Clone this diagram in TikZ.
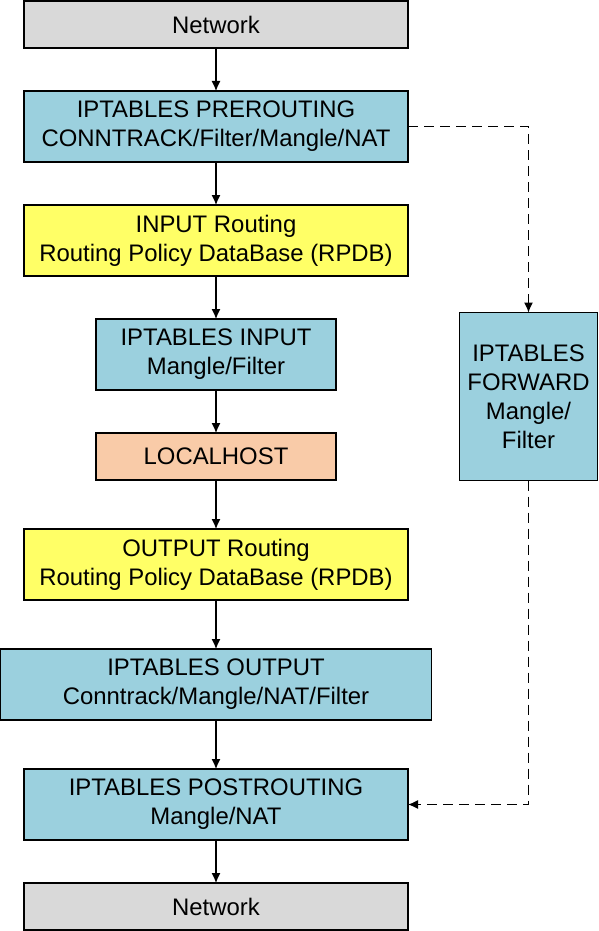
\documentclass[tikz,border=0pt]{standalone}
\usepackage{fontspec}
\setmainfont{Liberation Sans}
\usepackage{xcolor}
\usetikzlibrary{shapes,arrows.meta,positioning,calc}

\definecolor{netgray}{HTML}{D9D9D9}
\definecolor{chainblue}{HTML}{9BD0DE}
\definecolor{routeyellow}{HTML}{FFFF66}
\definecolor{hostorange}{HTML}{F9CBA8}

\begin{document}
\begin{tikzpicture}[
    x=1pt, y=-1pt,
    node distance=43pt,
    box/.style={rectangle, draw, line width=1.2pt, inner sep=0pt, outer sep=0pt, minimum width=384pt, minimum height=71pt, align=center, font=\fontsize{23.9}{29}\selectfont},
    net/.style={box, fill=netgray, minimum height=47pt},
    chain/.style={box, fill=chainblue},
    route/.style={box, fill=routeyellow},
    host/.style={box, fill=hostorange, minimum width=240pt, minimum height=47pt},
    arrow/.style={-{Latex[length=10pt,width=9pt]}, line width=1.2pt},
    dasharrow/.style={arrow, dash pattern=on 10pt off 6pt}
]
\useasboundingbox (0,0) rectangle (598,931);

% main path through the host
\node[net] (netin) at (216,24.5) {Network};
\node[chain, below=of netin] (pre) {IPTABLES PREROUTING\\CONNTRACK/Filter/Mangle/NAT};
\node[route, below=of pre] (inroute) {INPUT Routing\\Routing Policy DataBase (RPDB)};
\node[chain, below=of inroute, minimum width=240pt] (iptin) {IPTABLES INPUT\\Mangle/Filter};
\node[host, below=of iptin] (local) {LOCALHOST};
\node[route, below=49pt of local] (outroute) {OUTPUT Routing\\Routing Policy DataBase (RPDB)};
\node[chain, below=49pt of outroute, minimum width=431pt] (iptout) {IPTABLES OUTPUT\\Conntrack/Mangle/NAT/Filter};
\node[chain, below=49pt of iptout] (post) {IPTABLES POSTROUTING\\Mangle/NAT};
\node[net, below=of post] (netout) {Network};

% forwarded traffic
\node[chain, minimum width=138pt, minimum height=168pt] (fwd) at (528.5,396.5) {IPTABLES\\FORWARD\\Mangle/\\Filter};

\draw[arrow] (netin) -- (pre);
\draw[arrow] (pre) -- (inroute);
\draw[arrow] (inroute) -- (iptin);
\draw[arrow] (iptin) -- (local);
\draw[arrow] (local) -- (outroute);
\draw[arrow] (outroute) -- (iptout);
\draw[arrow] (iptout) -- (post);
\draw[arrow] (post) -- (netout);

\draw[dasharrow] (pre.east) -| (fwd.north);
\draw[dasharrow] (fwd.south) |- (post.east);
\end{tikzpicture}
\end{document}
